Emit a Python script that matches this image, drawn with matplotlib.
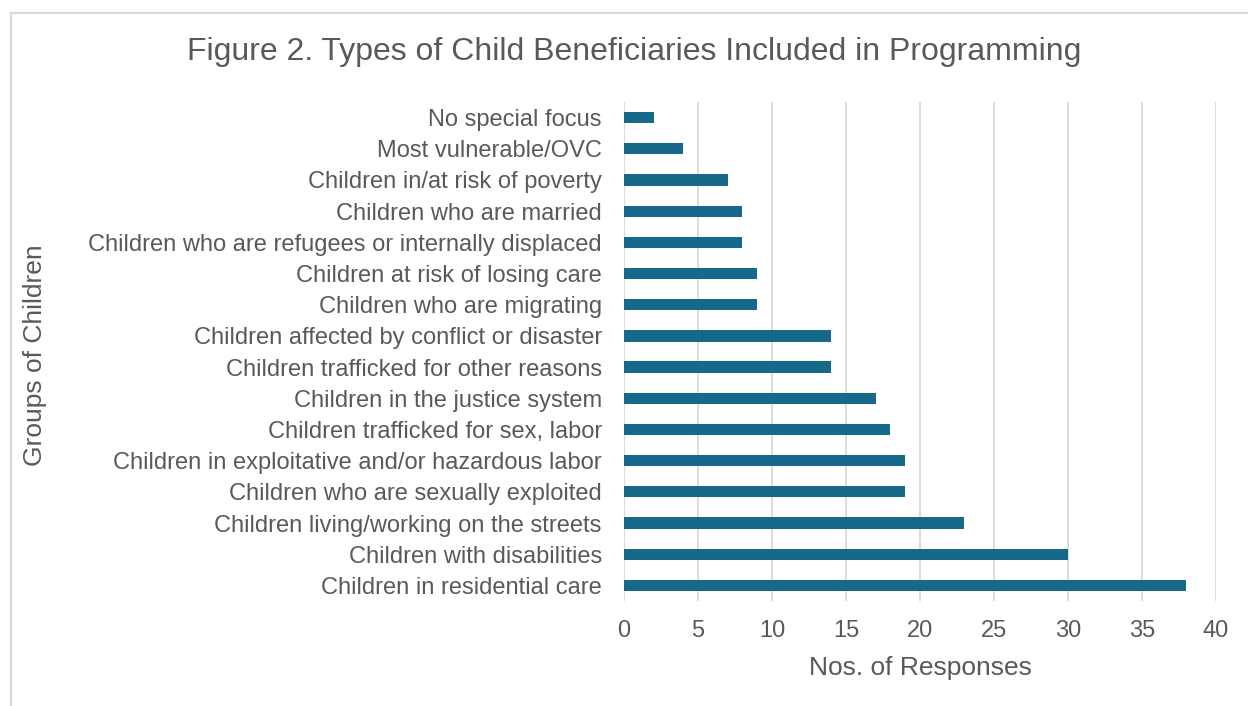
import matplotlib.pyplot as plt
from matplotlib.lines import Line2D

# categories listed top to bottom as in the figure
categories = [
    "No special focus",
    "Most vulnerable/OVC",
    "Children in/at risk of poverty",
    "Children who are married",
    "Children who are refugees or internally displaced",
    "Children at risk of losing care",
    "Children who are migrating",
    "Children affected by conflict or disaster",
    "Children trafficked for other reasons",
    "Children in the justice system",
    "Children trafficked for sex, labor",
    "Children in exploitative and/or hazardous labor",
    "Children who are sexually exploited",
    "Children living/working on the streets",
    "Children with disabilities",
    "Children in residential care",
]
responses = [2, 4, 7, 8, 8, 9, 9, 14, 14, 17, 18, 19, 19, 23, 30, 38]
x_ticks = [0, 5, 10, 15, 20, 25, 30, 35, 40]

text_color = "#595959"
bar_color = "#17698a"
grid_color = "#d9d9d9"

plt.rcParams["font.family"] = ["Liberation Sans", "DejaVu Sans"]

fig = plt.figure(figsize=(12.48, 7.06), dpi=100)
ax = fig.add_axes([0.5, 0.1487, 0.4744, 0.7068])

# bottom category first so the list reads top-down
ypos = list(range(len(categories)))[::-1]
ax.barh(ypos, responses, height=0.36, color=bar_color, zorder=3)

ax.set_ylim(-0.5, len(categories) - 0.5)
ax.set_xlim(0, 40)
ax.set_xticks(x_ticks)
ax.set_yticks(ypos)
ax.set_yticklabels(categories)
ax.tick_params(axis="both", length=0, colors=text_color)
ax.tick_params(axis="x", pad=14, labelsize=17)
ax.tick_params(axis="y", pad=16, labelsize=17)
ax.grid(axis="x", color=grid_color, linewidth=1.3, zorder=0)
for s in ax.spines.values():
    s.set_visible(False)

ax.set_xlabel("Nos. of Responses", fontsize=19, color=text_color, labelpad=10)
fig.text(0.028, 0.497, "Groups of Children", rotation=90, fontsize=19,
         color=text_color, ha="center", va="center")
fig.text(0.508, 0.926, "Figure 2. Types of Child Beneficiaries Included in Programming",
         fontsize=23, color=text_color, ha="center", va="center")

# chart frame (top and left edges visible in the crop)
fig.add_artist(Line2D([11 / 1248, 1.0], [1 - 12.5 / 706, 1 - 12.5 / 706],
                      transform=fig.transFigure, color=grid_color, linewidth=1.5))
fig.add_artist(Line2D([11 / 1248, 11 / 1248], [0, 1 - 12.5 / 706],
                      transform=fig.transFigure, color=grid_color, linewidth=1.5))

fig.savefig("out.png", dpi=100)
